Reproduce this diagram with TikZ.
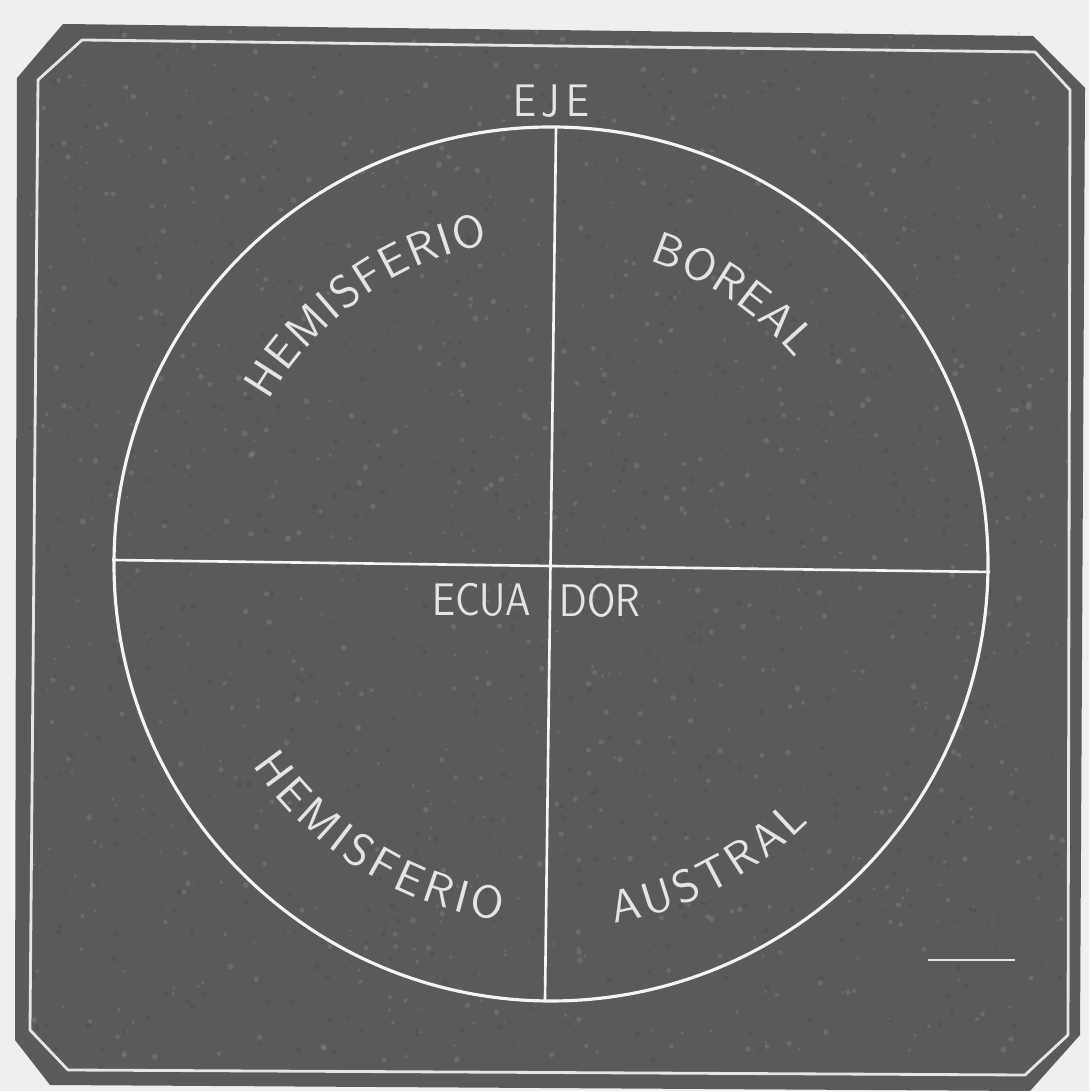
\documentclass[tikz,border=0pt]{standalone}
\usepackage{fontspec}
\usepackage{tikz}
\usetikzlibrary{decorations.text, calc}
\definecolor{paper}{HTML}{EFEFEF}
\definecolor{slate}{HTML}{5A5A5A}
\definecolor{chalk}{HTML}{F4F4F4}
\definecolor{chalktext}{HTML}{E4E4E4}
\newcommand{\chalkfont}{\sffamily\fontsize{13}{15}\selectfont}

\begin{document}
\begin{tikzpicture}[
    x=0.1mm, y=0.1mm,
    board/.style={fill=slate, draw=none},
    rim/.style={draw=chalk!90!slate, line width=0.8pt, line join=round},
    globe/.style={draw=chalk, line width=0.9pt},
    axis/.style={draw=chalk, line width=0.75pt},
    label/.style={text=chalktext, font=\chalkfont, inner sep=0pt,
        transform shape, xscale=0.86},
    arclabel/.style={decorate, decoration={text along path,
        text align=fit to path, text color=chalktext, text={|\chalkfont|#1}}}
]

% paper and blackboard
\fill[paper] (0,0) rectangle (1089,1091);
\useasboundingbox (0,0) rectangle (1089,1091);
\fill[board] (17,1013) -- (63,1067) -- (1033,1055) -- (1085,1003)
    -- (1080,56) -- (1030,0) -- (50,6) -- (15,51) -- cycle;

% grain of the print
\pgfmathsetseed{7}
\foreach \i in {1,...,900}
    \fill[gray!60, opacity=.2] ({rnd*1040+30},{rnd*1030+30}) circle[radius={1+rnd*2}];
\foreach \i in {1,...,900}
    \fill[black!75, opacity=.2] ({rnd*1040+30},{rnd*1030+30}) circle[radius={1+rnd*2}];

% inner frame
\draw[rim] (38,1011) -- (82,1051) -- (1035,1039) -- (1070,1001)
    -- (1068,56) -- (1025,16) -- (68,21) -- (30,61) -- cycle;
\draw[rim, line width=0.6pt] (928,131) -- (1015,131);

% the sphere
\coordinate (globe) at (551,527);
\draw[globe] (globe) circle[radius=437];

% axis and equator
\coordinate (poleN) at (556,963);
\coordinate (poleS) at (545,91);
\coordinate (ecuW) at (112,531);
\coordinate (ecuE) at (990,519);
\draw[axis] (poleN) -- (poleS);
\draw[axis] (ecuW) -- (ecuE);

% straight labels
\node[label] (eje) at (551,990) {E\hspace{2pt}J\hspace{2pt}E};
\node[label, anchor=east] (ecua) at (532,491) {ECUA};
\node[label, anchor=west] (dor) at (559,490) {DOR};

% labels along the circle
\path[arclabel=HEMISFERIO] ($(globe)+(150:326)$)
    arc[start angle=150, end angle=101, radius=326];
\path[arclabel=BOREAL] ($(globe)+(72:319)$)
    arc[start angle=72, end angle=40, radius=319];
\path[arclabel=HEMISFERIO] ($(globe)+(214:360)$)
    arc[start angle=214, end angle=262, radius=360];
\path[arclabel=AUSTRAL] ($(globe)+(280:365)$)
    arc[start angle=280, end angle=315, radius=365];

\end{tikzpicture}
\end{document}
